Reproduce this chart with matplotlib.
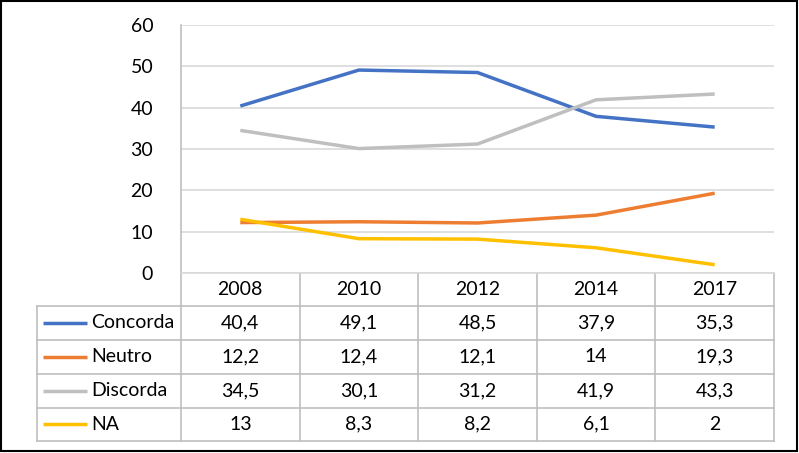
import matplotlib.pyplot as plt
import matplotlib.transforms as mtransforms
from matplotlib.patches import Rectangle

plt.rcParams['font.family'] = ['Lato', 'DejaVu Sans']

# Dados
anos = ['2008', '2010', '2012', '2014', '2017']
series = ['Concorda', 'Neutro', 'Discorda', 'NA']
concorda = [40.4, 49.1, 48.5, 37.9, 35.3]
neutro = [12.2, 12.4, 12.1, 14, 19.3]
discorda = [34.5, 30.1, 31.2, 41.9, 43.3]
na = [13, 8.3, 8.2, 6.1, 2]
valores = [concorda, neutro, discorda, na]
cores = ['#4472C4', '#ED7D31', '#BFBFBF', '#FFC000']

def fmt(v):
    s = ('%g' % v).replace('.', ',')
    return s

W, H = 799, 453
fig = plt.figure(figsize=(W / 100, H / 100), dpi=100)
# axes em pixels: x 181..774, y 25..273
ax = fig.add_axes([181 / W, 1 - 273 / H, (774 - 181) / W, (273 - 25) / H])

x = list(range(len(anos)))
for vals, cor, nome in zip(valores, cores, series):
    ax.plot(x, vals, color=cor, lw=2.5, label=nome, solid_capstyle='butt',
            solid_joinstyle='round', zorder=3)

grid = '#D9D9D9'
linha = '#BFBFBF'
tcor = '#000000'
fs = 14
ax.set_xlim(-0.5, len(anos) - 0.5)
ax.set_ylim(0, 60)
ax.set_yticks(range(0, 61, 10))
ax.yaxis.grid(True, color=grid, lw=1.2)
ax.set_axisbelow(True)
ax.tick_params(axis='y', length=0, pad=20, labelsize=fs, labelcolor=tcor)
ax.tick_params(axis='x', length=0, labelbottom=False)
for s in ['top', 'right']:
    ax.spines[s].set_visible(False)
ax.spines['left'].set_color(linha)
ax.spines['bottom'].set_color(grid)
ax.spines['left'].set_linewidth(1.2)
ax.spines['bottom'].set_linewidth(1.2)

# tabela abaixo do grafico
trans = mtransforms.blended_transform_factory(ax.transData, ax.transAxes)
ax_h = 273 - 25
linhas_px = [273, 306, 340, 374, 407.5, 441]
ys = [(273 - p) / ax_h for p in linhas_px]
x_esq = -0.5 - (181 - 37) / ((774 - 181) / len(anos))

kw = dict(transform=trans, clip_on=False, color=linha, lw=1.2)
for i, y in enumerate(ys[1:]):
    ax.plot([x_esq, len(anos) - 0.5], [y, y], **kw)
for xv in [k - 0.5 for k in range(len(anos) + 1)]:
    ax.plot([xv, xv], [ys[0], ys[-1]], **kw)
ax.plot([x_esq, x_esq], [ys[1], ys[-1]], **kw)

for j, ano in enumerate(anos):
    ax.text(j, (ys[0] + ys[1]) / 2, ano, transform=trans, ha='center',
            va='center', fontsize=fs, color=tcor)
leg_x0 = x_esq + 6 / 118.6
leg_x1 = x_esq + 50 / 118.6
for r, (nome, vals, cor) in enumerate(zip(series, valores, cores)):
    yc = (ys[r + 1] + ys[r + 2]) / 2
    ax.plot([leg_x0, leg_x1], [yc, yc], color=cor, lw=2.5, transform=trans,
            clip_on=False, solid_capstyle='butt')
    ax.text(leg_x1 + 4 / 118.6, yc, nome, transform=trans, ha='left',
            va='center', fontsize=fs, color=tcor)
    for j, v in enumerate(vals):
        ax.text(j, yc, fmt(v), transform=trans, ha='center', va='center',
                fontsize=fs, color=tcor)

# moldura externa
fig.patches.append(Rectangle((1 / W, 2 / H), 796 / W, 450 / H, fill=False,
                             edgecolor='black', lw=1.5,
                             transform=fig.transFigure, figure=fig))

fig.savefig('out.png', dpi=100)
